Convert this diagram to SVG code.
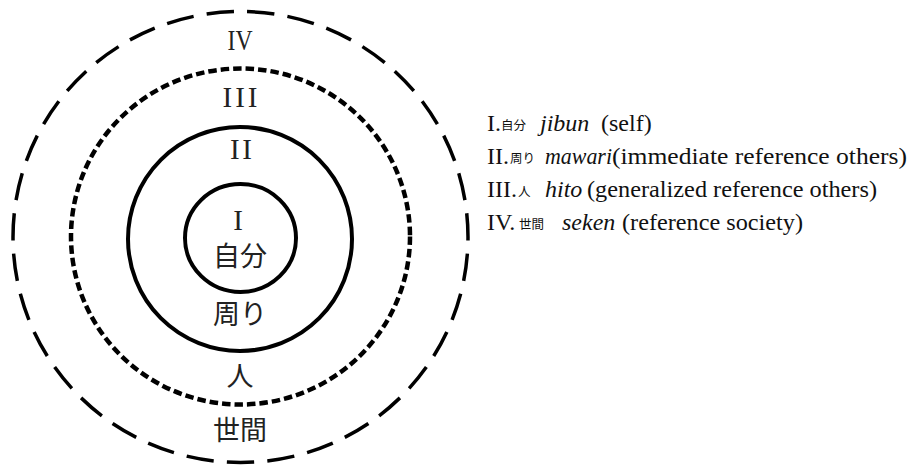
<svg xmlns="http://www.w3.org/2000/svg" width="909" height="468" viewBox="0 0 909 468">
<style>
.ring{fill:none;stroke:#000}
.num{font-family:"Liberation Serif","Times New Roman",serif;font-size:29px;fill:#222;text-anchor:middle}
.jp{font-family:"Noto Sans CJK JP","Noto Sans CJK SC",sans-serif;font-size:27px;fill:#222;text-anchor:middle}
.lr{font-family:"Liberation Serif","Times New Roman",serif;font-size:24px;fill:#111}
.it{font-family:"Liberation Serif","Times New Roman",serif;font-size:24px;font-style:italic;fill:#111}
.lj{font-family:"Noto Sans CJK JP","Noto Sans CJK SC",sans-serif;font-size:12.5px;fill:#111}
</style>
<rect width="909" height="468" fill="#fff"/>
<g id="ring-IV">
<ellipse class="ring" cx="240.5" cy="237" rx="227.5" ry="225.5" stroke-width="3.5" pathLength="1400" stroke-dasharray="27 13" stroke-dashoffset="23.5"/>
<text class="num" x="240" y="50" textLength="25" lengthAdjust="spacingAndGlyphs">IV</text>
<text class="jp" x="240" y="440">世間</text>
</g>
<g id="ring-III">
<ellipse class="ring" cx="240.5" cy="236.5" rx="169.5" ry="168" stroke-width="4.5" stroke-dasharray="8.5 4"/>
<text class="num" x="240" y="107" textLength="35" lengthAdjust="spacing">III</text>
<text class="jp" x="240" y="386">人</text>
</g>
<g id="ring-II">
<circle class="ring" cx="240" cy="239" r="112" stroke-width="4"/>
<text class="num" x="241" y="159" textLength="22" lengthAdjust="spacing">II</text>
<text class="jp" x="240" y="324">周り</text>
</g>
<g id="ring-I">
<ellipse class="ring" cx="240.5" cy="238" rx="55.5" ry="54" stroke-width="4"/>
<text class="num" x="238" y="230">I</text>
<text class="jp" x="240" y="266">自分</text>
</g>
<g id="legend">
<text class="lr" x="487" y="131">I.</text>
<text class="lj" x="501" y="130">自分</text>
<text class="it" x="540" y="131">jibun</text>
<text class="lr" x="601" y="131">(self)</text>
<text class="lr" x="487" y="164">II.</text>
<text class="lj" x="510" y="163">周り</text>
<text class="it" x="545" y="164" textLength="67" lengthAdjust="spacingAndGlyphs">mawari</text>
<text class="lr" x="612" y="164" textLength="295" lengthAdjust="spacingAndGlyphs">(immediate reference others)</text>
<text class="lr" x="487" y="197">III.</text>
<text class="lj" x="518" y="196">人</text>
<text class="it" x="545" y="197">hito</text>
<text class="lr" x="587" y="197" textLength="290" lengthAdjust="spacingAndGlyphs">(generalized reference others)</text>
<text class="lr" x="487" y="230">IV.</text>
<text class="lj" x="519" y="229">世間</text>
<text class="it" x="562" y="230">seken</text>
<text class="lr" x="622" y="230" textLength="181" lengthAdjust="spacingAndGlyphs">(reference society)</text>
</g>
</svg>
